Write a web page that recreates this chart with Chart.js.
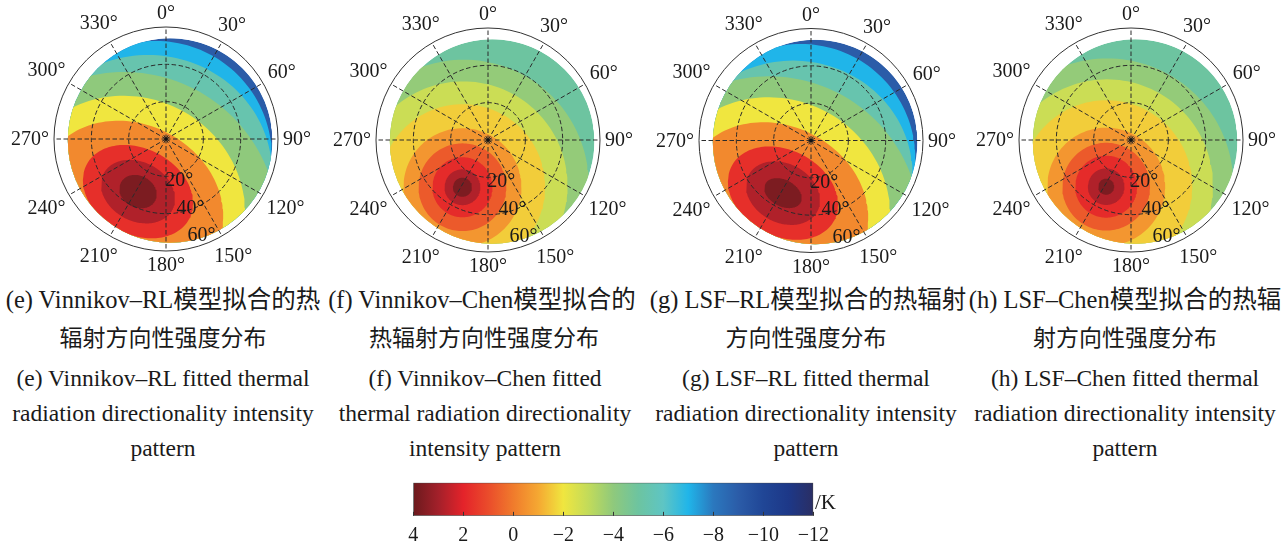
<!DOCTYPE html>
<html>
<head>
<meta charset="utf-8">
<script src="https://cdn.jsdelivr.net/npm/chart.js@4.4.1/dist/chart.umd.min.js"></script>
<style>
  body { margin: 0; background: #fff; width: 1288px; height: 549px; overflow: hidden; position: relative;
         font-family: "Liberation Serif", "Noto Sans CJK SC", serif; color: #1a1a1a; }
  canvas { position: absolute; }
  .cap { position: absolute; width: 340px; text-align: center; white-space: nowrap;
         font-size: 23.5px; line-height: 30px; height: 30px; }
  .cap.l1 { font-size: 24.5px; }
  .cap.l2 { font-size: 23px; }
  .unit { position: absolute; left: 815px; top: 489px; font-size: 21px; line-height: 26px; }
</style>
</head>
<body>
<canvas id="polarE" width="310" height="280" style="left:10.7px;top:0;width:310px;height:280px"></canvas>
<canvas id="polarF" width="310" height="280" style="left:333.3px;top:0;width:310px;height:280px"></canvas>
<canvas id="polarG" width="310" height="280" style="left:655.7px;top:0;width:310px;height:280px"></canvas>
<canvas id="polarH" width="310" height="280" style="left:975.7px;top:0;width:310px;height:280px"></canvas>
<canvas id="colorbar" width="450" height="75" style="left:400px;top:474px;width:450px;height:75px"></canvas>
<div class="unit">/K</div>

<div class="cap l1" style="left:-7px;top:285px">(e) Vinnikov–RL模型拟合的热</div>
<div class="cap l2" style="left:-7px;top:324px">辐射方向性强度分布</div>
<div class="cap" style="left:-7px;top:363px">(e) Vinnikov–RL fitted thermal</div>
<div class="cap" style="left:-7px;top:398px">radiation directionality intensity</div>
<div class="cap" style="left:-7px;top:433px">pattern</div>

<div class="cap l1" style="left:312px;top:285px">(f) Vinnikov–Chen模型拟合的</div>
<div class="cap l2" style="left:314px;top:324px">热辐射方向性强度分布</div>
<div class="cap" style="left:315px;top:363px">(f) Vinnikov–Chen fitted</div>
<div class="cap" style="left:315px;top:398px">thermal radiation directionality</div>
<div class="cap" style="left:315px;top:433px">intensity pattern</div>

<div class="cap l1" style="left:638px;top:285px">(g) LSF–RL模型拟合的热辐射</div>
<div class="cap l2" style="left:636px;top:324px">方向性强度分布</div>
<div class="cap" style="left:636px;top:363px">(g) LSF–RL fitted thermal</div>
<div class="cap" style="left:636px;top:398px">radiation directionality intensity</div>
<div class="cap" style="left:636px;top:433px">pattern</div>

<div class="cap l1" style="left:955px;top:285px">(h) LSF–Chen模型拟合的热辐</div>
<div class="cap l2" style="left:955px;top:324px">射方向性强度分布</div>
<div class="cap" style="left:955px;top:363px">(h) LSF–Chen fitted thermal</div>
<div class="cap" style="left:955px;top:398px">radiation directionality intensity</div>
<div class="cap" style="left:955px;top:433px">pattern</div>

<script>
// ejes polares
const azimuthTicks = [0, 30, 60, 90, 120, 150, 180, 210, 240, 270, 300, 330];
const zenithRings = [20, 40, 60];
const maxZenith = 60;

// zona con datos (centro este/norte en grados cenitales, radio)
const domainCenter = [2.2, -0.8];
const domainRadius = 54.8;

const cmapLevels = [4, 3, 2, 1, 0, -1, -2, -3, -4, -5, -6, -7, -8, -9, -10, -11, -12];
const cmapColors = ["#6b1a1d", "#a3202a", "#e4232a", "#ea4c2b", "#f07b2c", "#f5a832", "#f0e63f",
  "#c2db5a", "#8fc97c", "#6dc4a0", "#5ec5c4", "#20b5e9", "#2b78be", "#2b5ca8", "#204696",
  "#1d3888", "#2a2e64"];
const colorbarTicks = [4, 2, 0, -2, -4, -6, -8, -10, -12];

// contornos: nivel de cada banda (de dentro hacia fuera) y la elipse que la cierra
// centro este/norte, semiejes y giro en grados
// (e) Vinnikov-RL
const levelsE = [3.7, 2.8, 1.7, -0.3, -2.0, -4.0, -5.4, -7.0, -9.0];
const centerEastE = [-15.0, -15.0, -15.0, -18.6, -19.5, -22.5, -9.6, -5.4];
const centerNorthE = [-28.2, -28.2, -28.2, -35.0, -36.6, -46.6, -18.2, -9.6];
const radiusAE = [10.4, 20.8, 31.1, 50.9, 62.7, 82.5, 66.4, 62.1];
const radiusBE = [8.5, 15.8, 23.0, 42.9, 58.9, 82.5, 63.2, 62.1];
const tiltE = [-28, -28, -28, -28, -28, 0, 0, 0];

// (f) Vinnikov-Chen
const levelsF = [3.7, 2.8, 1.8, 0.7, -0.6, -1.6, -2.8, -3.9, -5.0];
const centerEastF = [-13.7, -13.7, -13.7, -13.7, -13.7, -13.6, -13.3, -13.0];
const centerNorthF = [-25.3, -25.3, -25.3, -25.3, -25.3, -25.0, -24.5, -24.0];
const radiusAF = [5.1, 9.6, 16.1, 23.5, 31.6, 44.2, 55.9, 67.0];
const radiusBF = [5.1, 9.6, 16.1, 23.5, 31.6, 44.2, 55.9, 67.0];
const tiltF = [0, 0, 0, 0, 0, 0, 0, 0];

// (g) LSF-RL
const levelsG = [3.7, 2.8, 1.7, -0.3, -2.0, -4.0, -5.4, -7.0, -9.0];
const centerEastG = [-15.0, -15.0, -15.0, -18.6, -19.5, -22.5, -9.6, -5.4];
const centerNorthG = [-28.2, -28.2, -28.2, -35.0, -36.6, -46.6, -18.2, -9.6];
const radiusAG = [10.7, 20.8, 31.1, 50.9, 62.7, 81.0, 64.0, 61.3];
const radiusBG = [7.1, 15.8, 23.0, 42.9, 58.9, 81.0, 61.0, 61.3];
const tiltG = [-28, -28, -28, -28, -28, 0, 0, 0];

// (h) LSF-Chen
const levelsH = [3.7, 2.8, 1.8, 0.7, -0.6, -1.6, -2.8, -3.9, -5.0];
const centerEastH = [-13.3, -13.3, -13.3, -13.3, -13.3, -13.2, -12.9, -12.7];
const centerNorthH = [-25.0, -25.0, -25.0, -25.0, -25.0, -24.7, -24.3, -23.8];
const radiusAH = [4.3, 9.8, 16.6, 23.5, 31.6, 46.0, 56.8, 67.5];
const radiusBH = [4.3, 9.8, 16.6, 23.5, 31.6, 46.0, 56.8, 67.5];
const tiltH = [0, 0, 0, 0, 0, 0, 0, 0];

const FONT = '"Liberation Serif", serif';

function hexToRgb(h) {
  return [1, 3, 5].map((i) => parseInt(h.slice(i, i + 2), 16));
}

function levelColor(v) {
  const n = cmapLevels.length;
  if (v >= cmapLevels[0]) return cmapColors[0];
  if (v <= cmapLevels[n - 1]) return cmapColors[n - 1];
  for (let i = 0; i < n - 1; i++) {
    const a = cmapLevels[i];
    const b = cmapLevels[i + 1];
    if (v <= a && v >= b) {
      const t = (a - v) / (a - b);
      const c1 = hexToRgb(cmapColors[i]);
      const c2 = hexToRgb(cmapColors[i + 1]);
      const c = c1.map((x, k) => Math.round(x + (c2[k] - x) * t));
      return `rgb(${c[0]},${c[1]},${c[2]})`;
    }
  }
}

// puntos del contorno (elipse girada)
function ellipsePoints(cx, cy, ra, rb, tiltDeg) {
  const g = (tiltDeg * Math.PI) / 180;
  const cg = Math.cos(g), sg = Math.sin(g);
  const pts = [];
  for (let i = 0; i <= 160; i++) {
    const t = (i / 160) * 2 * Math.PI;
    const a = ra * Math.cos(t);
    const b = rb * Math.sin(t);
    pts.push({ x: cx + a * cg - b * sg, y: cy + a * sg + b * cg });
  }
  return pts;
}

// recorta las bandas al área con datos
const domainClip = {
  id: "domainClip",
  beforeDatasetsDraw(chart) {
    const { ctx, scales: { x, y } } = chart;
    const cx = x.getPixelForValue(domainCenter[0]);
    const cy = y.getPixelForValue(domainCenter[1]);
    const r = x.getPixelForValue(domainCenter[0] + domainRadius) - cx;
    ctx.save();
    ctx.beginPath();
    ctx.arc(cx, cy, r, 0, 2 * Math.PI);
    ctx.clip();
  },
  afterDatasetsDraw(chart) {
    chart.ctx.restore();
  },
};

// rejilla polar y etiquetas
const polarGrid = {
  id: "polarGrid",
  afterDatasetsDraw(chart) {
    const { ctx, scales: { x, y } } = chart;
    const cx = x.getPixelForValue(0);
    const cy = y.getPixelForValue(0);
    const k = x.getPixelForValue(1) - cx;
    const R = maxZenith * k;
    ctx.save();
    ctx.strokeStyle = "#2b2b2b";
    ctx.lineWidth = 1;
    ctx.setLineDash([4.5, 2.5]);
    azimuthTicks.forEach((az) => {
      const t = (az * Math.PI) / 180;
      ctx.beginPath();
      ctx.moveTo(cx, cy);
      ctx.lineTo(cx + R * Math.sin(t), cy - R * Math.cos(t));
      ctx.stroke();
    });
    zenithRings
      .filter((r) => r < maxZenith)
      .forEach((r) => {
        ctx.beginPath();
        ctx.arc(cx, cy, r * k, 0, 2 * Math.PI);
        ctx.stroke();
      });
    ctx.setLineDash([]);
    ctx.strokeStyle = "#333";
    ctx.beginPath();
    ctx.arc(cx, cy, R, 0, 2 * Math.PI);
    ctx.stroke();
    ctx.fillStyle = "#111";
    ctx.beginPath();
    ctx.arc(cx, cy, 1.8, 0, 2 * Math.PI);
    ctx.fill();

    ctx.font = "20px " + FONT;
    ctx.textAlign = "center";
    ctx.textBaseline = "middle";
    ctx.fillStyle = "#1a1a1a";
    azimuthTicks.forEach((az) => {
      const t = (az * Math.PI) / 180;
      const s = Math.sin(t), c = Math.cos(t);
      const label = az + "°";
      const w = ctx.measureText(label).width;
      const d = R + 5 + (Math.abs(s) * w) / 2 + Math.abs(c) * 9;
      ctx.fillText(label, cx + d * s, cy - d * c + 1);
    });
    zenithRings.forEach((r) => {
      const rp = r * k;
      ctx.fillText(r + "°", cx + 0.3 * rp + 2, cy + 0.74 * rp + 14.3);
    });
    ctx.restore();
  },
};

function makePolar(id, centerY, levels, cEast, cNorth, rA, rB, tilt) {
  const datasets = cEast.map((cx, i) => ({
    data: ellipsePoints(cx, cNorth[i], rA[i], rB[i], tilt[i]),
    backgroundColor: levelColor(levels[i]),
  }));
  datasets.push({
    data: ellipsePoints(domainCenter[0], domainCenter[1], domainRadius, domainRadius, 0),
    backgroundColor: levelColor(levels[levels.length - 1]),
  });
  datasets.forEach((d) => {
    d.showLine = true;
    d.fill = "shape";
    d.borderWidth = 0;
    d.borderColor = "rgba(0,0,0,0)";
    d.pointRadius = 0;
  });
  const top = centerY - 112;
  return new Chart(document.getElementById(id), {
    type: "scatter",
    data: { datasets },
    options: {
      responsive: false,
      animation: false,
      devicePixelRatio: 1,
      layout: { padding: { left: 43, right: 43, top: top, bottom: 280 - 224 - top } },
      scales: {
        x: { type: "linear", min: -maxZenith, max: maxZenith, display: false },
        y: { type: "linear", min: -maxZenith, max: maxZenith, display: false },
      },
      plugins: { legend: { display: false }, tooltip: { enabled: false } },
      elements: { line: { tension: 0 } },
    },
    plugins: [domainClip, polarGrid],
  });
}

makePolar("polarE", 139, levelsE, centerEastE, centerNorthE, radiusAE, radiusBE, tiltE);
makePolar("polarF", 140, levelsF, centerEastF, centerNorthF, radiusAF, radiusBF, tiltF);
makePolar("polarG", 140.5, levelsG, centerEastG, centerNorthG, radiusAG, radiusBG, tiltG);
makePolar("polarH", 140, levelsH, centerEastH, centerNorthH, radiusAH, radiusBH, tiltH);

// marcas interiores de la barra de color
const innerTicks = {
  id: "innerTicks",
  afterDraw(chart) {
    const { ctx, chartArea, scales: { x } } = chart;
    ctx.save();
    ctx.strokeStyle = "#333";
    ctx.lineWidth = 1;
    colorbarTicks.forEach((v) => {
      const px = Math.round(x.getPixelForValue(v)) + 0.5;
      ctx.beginPath();
      ctx.moveTo(px, chartArea.bottom);
      ctx.lineTo(px, chartArea.bottom - 4);
      ctx.stroke();
    });
    ctx.restore();
  },
};

new Chart(document.getElementById("colorbar"), {
  type: "bar",
  data: {
    labels: ["K"],
    datasets: [
      {
        data: [[cmapLevels[cmapLevels.length - 1], cmapLevels[0]]],
        backgroundColor(context) {
          const chart = context.chart;
          const { chartArea, scales } = chart;
          if (!chartArea) return null;
          const first = cmapLevels[0];
          const last = cmapLevels[cmapLevels.length - 1];
          const g = chart.ctx.createLinearGradient(
            scales.x.getPixelForValue(first), 0, scales.x.getPixelForValue(last), 0);
          cmapLevels.forEach((v, i) => g.addColorStop((first - v) / (first - last), cmapColors[i]));
          return g;
        },
        borderColor: "#444",
        borderWidth: 1,
        borderSkipped: false,
        barPercentage: 1,
        categoryPercentage: 1,
      },
    ],
  },
  options: {
    indexAxis: "y",
    responsive: false,
    animation: false,
    devicePixelRatio: 1,
    layout: { padding: { left: 13.3, right: 36.7, top: 8.7, bottom: 0 } },
    scales: {
      x: {
        type: "linear",
        min: -12,
        max: 4,
        reverse: true,
        grid: { display: false, drawTicks: false },
        border: { display: false },
        ticks: {
          stepSize: 2,
          padding: 8,
          color: "#1a1a1a",
          font: { family: FONT, size: 20 },
          callback: (v) => (v < 0 ? "−" + Math.abs(v) : String(v)),
        },
      },
      y: { display: false },
    },
    plugins: { legend: { display: false }, tooltip: { enabled: false } },
  },
  plugins: [innerTicks],
});
</script>
</body>
</html>
